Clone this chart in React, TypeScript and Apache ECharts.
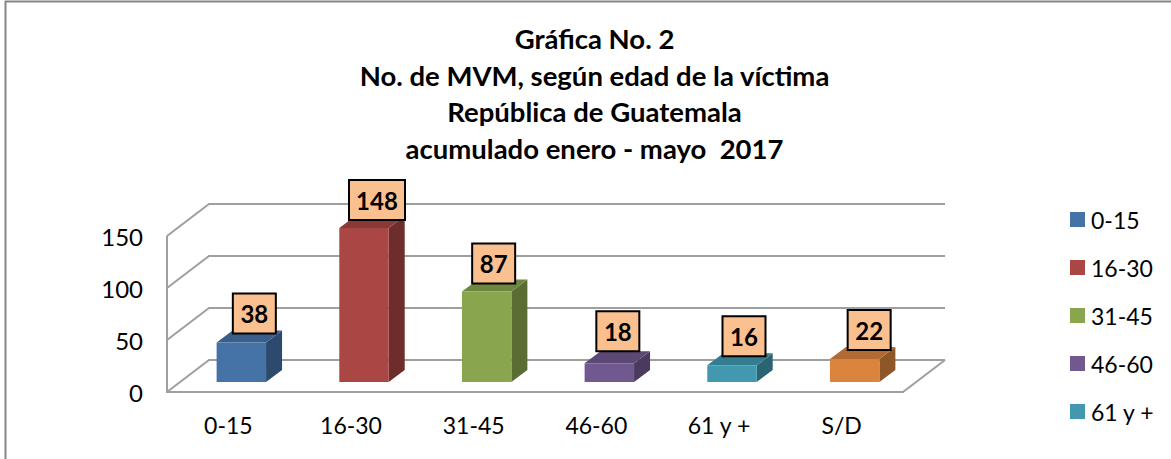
import React, { useEffect, useRef } from "react";
import * as echarts from "echarts";

const categories = ["0-15", "16-30", "31-45", "46-60", "61 y +", "S/D"];
const values = [38, 148, 87, 18, 16, 22];
const legendItems = ["0-15", "16-30", "31-45", "46-60", "61 y +"];
const yTicks = [0, 50, 100, 150];
const titleLines = [
  "Gráfica No. 2",
  "No. de MVM, según edad de la víctima",
  "República de Guatemala",
  "acumulado enero - mayo  2017",
];

const frontColors = ["#4572A7", "#AA4643", "#89A54E", "#71588F", "#4198AF", "#DB843D"];
const topColors = ["#3A5E8B", "#8A3936", "#6F863F", "#5C4875", "#347C8F", "#B26B32"];
const sideColors = ["#2D4A6E", "#6E2D2B", "#5A6D33", "#4A3A5E", "#2A6473", "#8F5628"];
const labelNudgeX = [13, 13, 7, 8.5, 12, 14.5];
const labelNudgeY = [-29, -28, -28, -32, -29, -29];

const FONT = "Lato";
const WALL_DX = 42;
const WALL_DY = -32;
const BAR_SHIFT_X = 13;
const BAR_SHIFT_Y = -10;
const BAR_DX = 16;
const BAR_DY = -12;
const BAR_WIDTH_RATIO = 0.403;
const LINE = { stroke: "#9F9F9F", lineWidth: 2, fill: "none" };

function renderWall(params: any, api: any) {
  const v = api.value(1);
  const g = params.coordSys;
  const y = api.coord([0, v])[1];
  const x0 = g.x;
  const x1 = g.x + g.width;
  const children: any[] = [
    {
      type: "polyline",
      shape: {
        points: [
          [x0, y],
          [x0 + WALL_DX, y + WALL_DY],
          [x1 + WALL_DX, y + WALL_DY],
        ],
      },
      style: LINE,
    },
  ];
  if (v === 0) {
    children.push({
      type: "polyline",
      shape: {
        points: [
          [x0, g.y],
          [x0, y],
          [x1, y],
          [x1 + WALL_DX, y + WALL_DY],
        ],
      },
      style: LINE,
    });
  }
  return { type: "group", children };
}

function renderBar(params: any, api: any) {
  const i = api.value(0);
  const val = api.value(1);
  const base = api.coord([i, 0]);
  const top = api.coord([i, val]);
  const w = api.size([1, 0])[0] * BAR_WIDTH_RATIO;
  const xl = base[0] - w / 2 + BAR_SHIFT_X;
  const xr = xl + w;
  const yb = base[1] + BAR_SHIFT_Y;
  const yt = top[1] + BAR_SHIFT_Y;
  const text = String(val);
  const boxW = text.length > 2 ? 56 : 43;
  const boxH = 40;
  const cx = (xl + xr) / 2 + labelNudgeX[i];
  const cy = yt + labelNudgeY[i];
  return {
    type: "group",
    children: [
      {
        type: "polygon",
        shape: { points: [[xr, yb], [xr + BAR_DX, yb + BAR_DY], [xr + BAR_DX, yt + BAR_DY], [xr, yt]] },
        style: { fill: sideColors[i] },
      },
      {
        type: "polygon",
        shape: { points: [[xl, yt], [xl + BAR_DX, yt + BAR_DY], [xr + BAR_DX, yt + BAR_DY], [xr, yt]] },
        style: { fill: topColors[i] },
      },
      { type: "rect", shape: { x: xl, y: yt, width: w, height: yb - yt }, style: { fill: frontColors[i] } },
      {
        type: "rect",
        shape: { x: cx - boxW / 2, y: cy - boxH / 2, width: boxW, height: boxH },
        style: { fill: "#FAC08F", stroke: "#000000", lineWidth: 2 },
      },
      {
        type: "text",
        style: {
          x: cx,
          y: cy,
          text,
          align: "center",
          verticalAlign: "middle",
          fill: "#000000",
          font: `bold 24px ${FONT}`,
        },
      },
    ],
  };
}

export default function App() {
  const ref = useRef<HTMLDivElement>(null);
  useEffect(() => {
    document.body.style.margin = "0";
    const chart = echarts.init(ref.current!, undefined, { renderer: "svg" });
    chart.setOption({
      animation: false,
      backgroundColor: "#FFFFFF",
      textStyle: { fontFamily: FONT },
      title: {
        text: titleLines.join("\n"),
        left: 589.5,
        top: 15,
        textAlign: "center",
        textStyle: { fontFamily: FONT, fontWeight: "bold", fontSize: 27.5, lineHeight: 36.7, color: "#000000" },
      },
      legend: {
        data: legendItems,
        orient: "vertical",
        left: 1070,
        top: 208,
        itemWidth: 15,
        itemHeight: 15,
        itemGap: 25,
        icon: "rect",
        padding: 0,
        selectedMode: false,
        textStyle: { fontFamily: FONT, fontSize: 23, color: "#000000", padding: [0, 0, 4, 1] },
      },
      grid: { left: 167, top: 236, width: 736, height: 156 },
      xAxis: {
        type: "category",
        data: categories,
        axisLine: { show: false },
        axisTick: { show: false },
        axisLabel: { margin: 21, fontFamily: FONT, fontSize: 23, color: "#000000" },
      },
      yAxis: {
        type: "value",
        min: 0,
        max: 150,
        interval: 50,
        axisLine: { show: false },
        axisTick: { show: false },
        splitLine: { show: false },
        axisLabel: { margin: 24, fontFamily: FONT, fontSize: 24, color: "#000000" },
      },
      graphic: [
        {
          type: "polyline",
          silent: true,
          shape: { points: [[5.5, 459], [5.5, 1.5], [1171, 1.5]] },
          style: { stroke: "#868686", lineWidth: 2, fill: "none" },
        },
      ],
      series: [
        {
          type: "custom",
          name: "walls",
          silent: true,
          clip: false,
          encode: { x: 0, y: 1 },
          data: yTicks.map((t) => [0, t]),
          renderItem: renderWall,
          z: 1,
        },
        ...categories.map((c, i) => ({
          type: "custom",
          name: c,
          clip: false,
          encode: { x: 0, y: 1 },
          itemStyle: { color: frontColors[i] },
          data: [[i, values[i]]],
          renderItem: renderBar,
          z: 2,
        })),
      ],
    });
    return () => chart.dispose();
  }, []);
  return <div ref={ref} style={{ position: "absolute", left: 0, top: 0, width: 1171, height: 459 }} />;
}
